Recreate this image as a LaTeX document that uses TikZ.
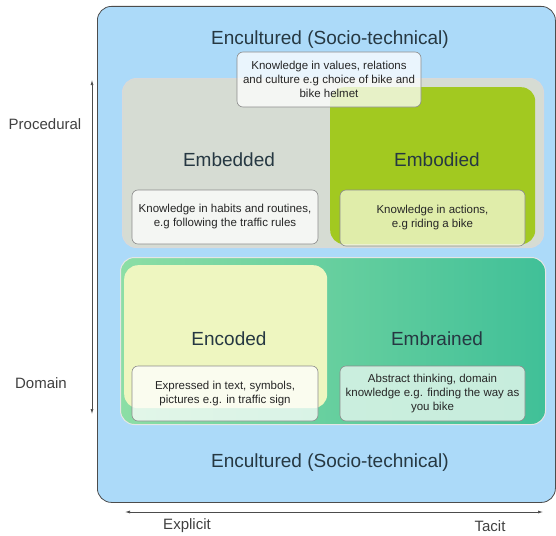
\documentclass[tikz,border=0pt]{standalone}
\usepackage{fontspec}
\setmainfont{Liberation Sans}
\usetikzlibrary{arrows.meta}
\definecolor{skyfill}{RGB}{172,218,249}
\definecolor{procfill}{RGB}{214,220,211}
\definecolor{bodyfill}{RGB}{162,201,32}
\definecolor{codefill}{RGB}{238,246,192}
\definecolor{domleft}{RGB}{140,222,165}
\definecolor{domright}{RGB}{64,192,152}
\definecolor{brainfill}{RGB}{214,242,229}
\definecolor{titletext}{RGB}{38,56,66}
\tikzset{
  area/.style={rectangle, rounded corners=14pt, anchor=north west, inner sep=0pt},
  note/.style={rectangle, rounded corners=6pt, draw=black!45, line width=0.6pt,
    fill=white, fill opacity=0.75, text opacity=1, align=center,
    font=\fontsize{11.5}{14}\selectfont, text=black!85},
  title/.style={font=\fontsize{19}{22}\selectfont, text=titletext},
  axis/.style={draw=black!70, line width=0.7pt, {Latex[length=5pt,width=3pt]}-{Latex[length=5pt,width=3pt]}},
  axislabel/.style={font=\fontsize{15}{18}\selectfont, text=black!75, inner sep=1pt}
}
\begin{document}
\begin{tikzpicture}[x=1pt, y=-1pt]
\useasboundingbox (0,0) rectangle (556,535);
% outer encultured frame
\node[area, draw=black!70, line width=0.8pt, fill=skyfill, minimum width=458pt, minimum height=496pt] (encultured) at (97,6) {};
% procedural row
\node[area, draw=black!15, line width=1pt, fill=procfill, minimum width=421pt, minimum height=169pt] (procedural) at (122,78) {};
\node[area, fill=bodyfill, minimum width=205pt, minimum height=157pt] (embodied) at (330,87) {};
% domain row
\node[area, draw=black!10, line width=1pt, left color=domleft, right color=domright, minimum width=425pt, minimum height=167pt] (domain) at (120,257) {};
\node[area, fill=codefill, minimum width=203pt, minimum height=143pt] (encoded) at (124,265) {};
% titles
\node[title] (toptitle) at (330,40) {Encultured (Socio-technical)};
\node[title] (bottitle) at (330,463) {Encultured (Socio-technical)};
\node[title] (embeddedtitle) at (229,160) {Embedded};
\node[title] (embodiedtitle) at (437,160) {Embodied};
\node[title] (encodedtitle) at (229,339) {Encoded};
\node[title] (embrainedtitle) at (437,339) {Embrained};
% notes
\node[note, minimum width=184pt, minimum height=55pt] (valuesnote) at (329,79.5)
  {Knowledge in values, relations\\and culture e.g choice of bike and\\bike helmet};
\node[note, minimum width=186pt, minimum height=54pt] (habitsnote) at (225,217)
  {Knowledge in habits and routines,\\e.g following the traffic rules};
\node[note, fill=codefill!60!white, minimum width=185pt, minimum height=56pt] (actionsnote) at (432.5,218)
  {Knowledge in actions,\\e.g riding a bike};
\node[note, minimum width=186pt, minimum height=55pt] (textnote) at (225,393.5)
  {Expressed in text, symbols,\\pictures e.g. in traffic sign};
\node[note, fill=brainfill, fill opacity=0.9, minimum width=185pt, minimum height=55pt] (thinknote) at (432.5,393.5)
  {Abstract thinking, domain\\knowledge e.g. finding the way as\\you bike};
% axes
\coordinate (proctop) at (92,80);
\coordinate (dombot) at (92,414);
\coordinate (explend) at (125,512);
\coordinate (tacitend) at (543,512);
\draw[axis] (proctop) -- (dombot);
\draw[axis] (explend) -- (tacitend);
\node[axislabel] (proclabel) at (45,124) {Procedural};
\node[axislabel] (domlabel) at (41,383) {Domain};
\node[axislabel] (expllabel) at (187,526) {Explicit};
\node[axislabel] (tacitlabel) at (490,526) {Tacit};
\end{tikzpicture}
\end{document}
